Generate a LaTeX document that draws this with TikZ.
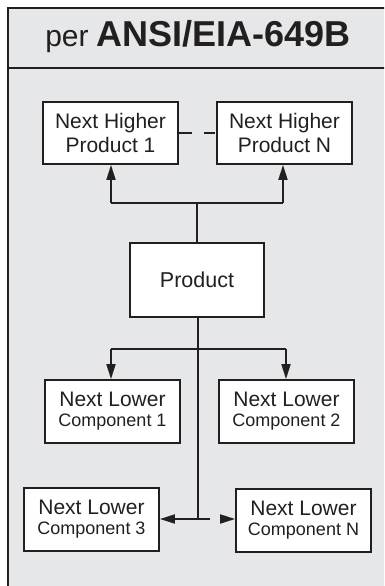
\documentclass[tikz,border=0pt]{standalone}
\usepackage{fontspec}
\setmainfont{Liberation Sans}
\usetikzlibrary{arrows.meta}
\definecolor{panel}{RGB}{230,231,232}
\definecolor{ink}{RGB}{35,31,32}
\tikzset{
  box/.style={draw=ink, fill=white, line width=1.8pt, inner sep=0pt, align=center, text=ink},
  nhbox/.style={box, minimum width=135pt, minimum height=62pt, font=\fontsize{21}{24}\selectfont},
  nlbox/.style={box, minimum width=135pt, minimum height=63pt, font=\fontsize{21}{21}\selectfont},
  conn/.style={draw=ink, line width=1.8pt},
  arr/.style={conn, -{Triangle[length=15pt,width=9pt]}}
}
\newcommand{\comp}[1]{{\fontsize{18}{20}\selectfont #1}}
\begin{document}
\begin{tikzpicture}[x=1pt,y=-1pt]
\useasboundingbox (0,0) rectangle (384,586);
\clip (0,0) rectangle (384,586);
% panel
\fill[panel] (8,8) rectangle (400,600);
\draw[conn] (8,600) -- (8,8) -- (400,8);
\draw[conn] (8,68) -- (400,68);
\node[text=ink, anchor=base] (title) at (198,46.7)
  {{\fontsize{30}{30}\selectfont per}\hspace{8pt}{\fontsize{36}{36}\selectfont\bfseries ANSI/EIA-649B}};
% boxes
\node[nhbox] (nh1) at (110.5,133) {Next Higher\\Product 1};
\node[nhbox] (nhn) at (284.5,133) {Next Higher\\Product N};
\node[box, minimum width=134pt, minimum height=74pt, font=\fontsize{21.5}{24}\selectfont] (prod) at (197,280) {Product};
\node[nlbox] (nl1) at (112.5,411.5) {Next Lower\\[-1pt]\comp{Component 1}};
\node[nlbox] (nl2) at (286.5,411.5) {Next Lower\\[-1pt]\comp{Component 2}};
\node[nlbox] (nl3) at (91.5,519.5) {Next Lower\\[-1pt]\comp{Component 3}};
\node[nlbox] (nln) at (303.5,520.5) {Next Lower\\[-1pt]\comp{Component N}};
% upper connectors
\coordinate (tj) at (197,203);
\coordinate (tl) at (111,203);
\coordinate (tr) at (283,203);
\draw[conn] (prod.north) -- (tj);
\draw[conn] (tl) -- (tr);
\draw[arr] (tl) -- (tl |- nh1.south);
\draw[arr] (tr) -- (tr |- nhn.south);
\draw[conn, dash pattern=on 13pt off 12pt on 11pt off 100pt] (nh1.east) -- (nhn.west);
% lower connectors
\coordinate (bj) at (198,349);
\coordinate (bl) at (111,349);
\coordinate (br) at (286,349);
\coordinate (bb) at (198,519);
\coordinate (be) at (210,519);
\coordinate (bs) at (220,519);
\draw[conn] (prod.south -| bj) -- (bb);
\draw[conn] (bl) -- (br);
\draw[arr] (bl) -- (bl |- nl1.north);
\draw[arr] (br) -- (br |- nl2.north);
\draw[arr] (be) -- (be -| nl3.east);
\draw[arr] (bs) -- (bs -| nln.west);
\end{tikzpicture}
\end{document}
